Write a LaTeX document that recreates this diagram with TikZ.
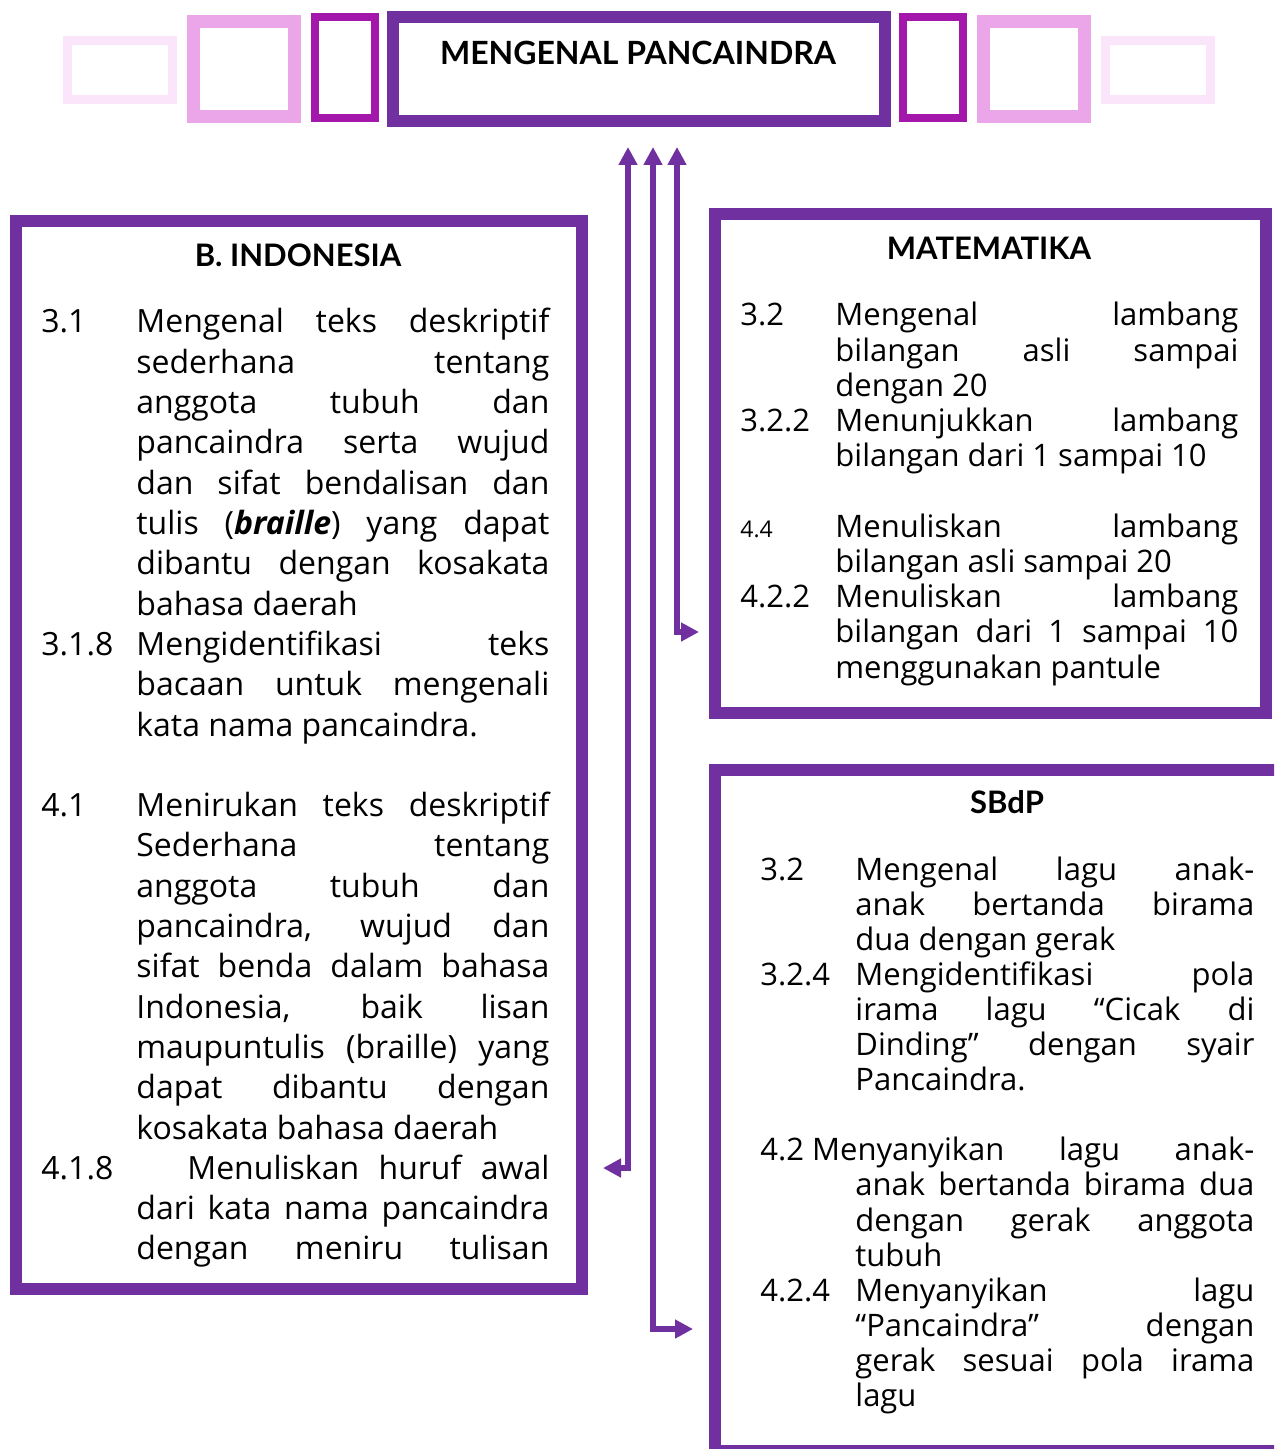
\documentclass[tikz,border=0pt]{standalone}
\usepackage{fontspec}
\setmainfont{Open Sans}
\newfontfamily\judulfont{Lato}
\usetikzlibrary{positioning,arrows.meta}

\definecolor{ungutua}{HTML}{7030A0}
\definecolor{magentatua}{HTML}{A318AA}
\definecolor{merahmuda}{HTML}{EBA6EA}
\definecolor{pucat}{HTML}{FBE5FA}

\newlength{\kdind}
\setlength{\kdind}{47.5pt}
\newcommand{\kd}[2]{\noindent\hangindent=\kdind\hangafter=1\makebox[\kdind][l]{#1}#2\par}
\newcommand{\kdjeda}{\par\vspace{\baselineskip}}

\tolerance=10000
\hyphenpenalty=10000

\begin{document}
\begin{tikzpicture}[
        x=0.5pt, y=-0.5pt,
        kotak/.style = {draw=ungutua, line width=6pt, inner sep=0pt},
        judulmapel/.style = {font=\judulfont\fontsize{15.5}{18}\bfseries\selectfont},
        isi/.style = {anchor=base west, inner sep=0pt, text width=#1, align=justify},
        panah/.style = {{Triangle[length=9pt,width=9pt]}-{Triangle[length=9pt,width=9pt]}, line width=3pt, ungutua}
    ]
    \useasboundingbox (0,0) rectangle (1274,1449);
    \clip (0,0) rectangle (1274,1449);

    % hiasan kotak di atas
    \foreach \warna/\tebal/\xa/\ya/\xb/\yb in {
        pucat/4.5pt/67.5/40.5/172.5/99.5,
        merahmuda/6.5pt/193.5/21.5/294.5/116.5,
        magentatua/4pt/315/17/375/118,
        magentatua/4pt/903/17/963/118,
        merahmuda/6.5pt/983.5/21.5/1084.5/116.5,
        pucat/4.5pt/1105.5/40.5/1210.5/99.5}
        \draw[\warna, line width=\tebal] (\xa,\ya) rectangle (\xb,\yb);

    \node[kotak, minimum width=246pt, minimum height=52pt] (judul) at (639,69) {};
    \node[font=\judulfont\fontsize{16}{19}\bfseries\selectfont] (judulteks) at (638,53) {MENGENAL PANCAINDRA};

    % kotak mata pelajaran
    \node[kotak, minimum width=283pt, minimum height=534pt] (bindo) at (299,755) {};
    \node[kotak, minimum width=275.25pt, minimum height=249.5pt] (mat) at (990.25,463.5) {};
    \node[kotak, minimum width=287.5pt, minimum height=340.5pt] (sbdp) at (1002.5,1110.5) {};

    \node[judulmapel] (bindojudul) at (298,255) {B. INDONESIA};
    \node[judulmapel] (matjudul) at (989,248) {MATEMATIKA};
    \node[judulmapel] (sbdpjudul) at (1007,802) {SBdP};

    \node[isi=254pt, font=\fontsize{16}{20.15}\selectfont] (bindoisi) at (41,333) {%
        \kd{3.1}{Mengenal teks deskriptif\linebreak sederhana tentang\linebreak anggota tubuh dan\linebreak pancaindra serta wujud\linebreak dan sifat bendalisan dan\linebreak tulis (\textbf{\textit{braille}}) yang dapat\linebreak dibantu dengan kosakata\linebreak bahasa daerah}
        \kd{3.1.8}{Mengidentifikasi teks\linebreak bacaan untuk mengenali\linebreak kata nama pancaindra.}
        \kdjeda
        \kd{4.1}{Menirukan teks deskriptif\linebreak Sederhana tentang\linebreak anggota tubuh dan\linebreak pancaindra, wujud dan\linebreak sifat benda dalam bahasa\linebreak Indonesia, baik lisan\linebreak maupuntulis (braille) yang\linebreak dapat dibantu dengan\linebreak kosakata bahasa daerah}
        {\parfillskip=0pt \kd{4.1.8}{\hspace{25.5pt}Menuliskan huruf awal\linebreak dari kata nama pancaindra\linebreak dengan meniru tulisan}}};

    \node[isi=249pt, font=\fontsize{15.5}{17.6}\selectfont] (matisi) at (740,326) {%
        \kd{3.2}{Mengenal lambang\linebreak bilangan asli sampai\linebreak dengan 20}
        \kd{3.2.2}{Menunjukkan lambang\linebreak bilangan dari 1 sampai 10}
        \kdjeda
        \kd{\fontsize{11.5}{17.6}\selectfont 4.4}{Menuliskan lambang\linebreak bilangan asli sampai 20}
        \kd{4.2.2}{Menuliskan lambang\linebreak bilangan dari 1 sampai 10\linebreak menggunakan pantule}};

    \node[isi=247pt, font=\fontsize{15.5}{17.55}\selectfont] (sbdpisi) at (760,880) {%
        \kd{3.2}{Mengenal lagu anak-\linebreak anak bertanda birama\linebreak dua dengan gerak}
        \kd{3.2.4}{Mengidentifikasi pola\linebreak irama lagu “Cicak di\linebreak Dinding” dengan syair\linebreak Pancaindra.}
        \kdjeda
        \noindent\hangindent=\kdind\hangafter=1 \mbox{4.2 Menyanyikan} lagu anak-\linebreak anak bertanda birama dua\linebreak dengan gerak anggota\linebreak tubuh\par
        \kd{4.2.4}{Menyanyikan lagu\linebreak “Pancaindra” dengan\linebreak gerak sesuai pola irama\linebreak lagu}};

    % Panah
    \coordinate (panahA) at (628,147);
    \coordinate (panahB) at (653,147);
    \coordinate (panahC) at (677,147);
    \coordinate (masukbindo) at (603,1168);
    \coordinate (masukmat) at (699,632);
    \coordinate (masuksbdp) at (693,1329);
    \draw[panah] (panahA) |- (masukbindo);
    \draw[panah] (panahB) |- (masuksbdp);
    \draw[panah] (panahC) |- (masukmat);

\end{tikzpicture}
\end{document}
